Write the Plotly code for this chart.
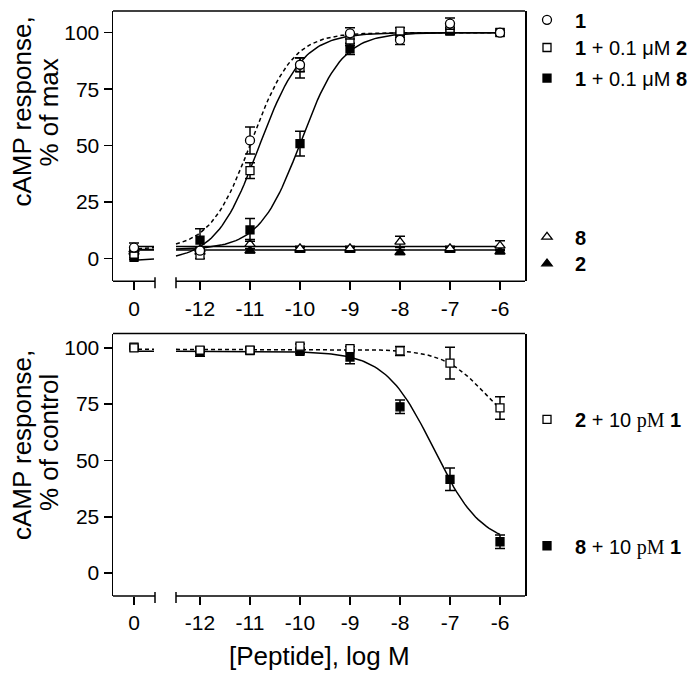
import numpy as np
import plotly.graph_objects as go

# ---------------- data ----------------
dose_labels = ["0", "-12", "-11", "-10", "-9", "-8", "-7", "-6"]
log_dose = [None, -12, -11, -10, -9, -8, -7, -6]   # None = no peptide (control)

# top panel: cAMP response, % of max
top_1 = [4.9, 3.5, 52.3, 85.8, 99.7, 96.8, 104.0, 100.0]
top_1_err = [2.0, 1.0, 6.0, 3.0, 2.5, 2.0, 2.5, 0.5]
top_1p2 = [2.0, 1.5, 38.9, 84.4, 96.8, 100.7, 101.9, 100.0]
top_1p2_err = [1.5, 1.5, 3.5, 4.5, 2.5, 1.5, 2.0, 0.5]
top_1p8 = [0.6, 8.2, 12.7, 50.9, 92.8, 99.0, 100.7, 100.1]
top_1p8_err = [1.0, 5.0, 5.0, 5.5, 2.5, 1.0, 1.5, 0.5]
top_8 = [4.0, 4.0, 6.4, 4.5, 4.5, 7.4, 4.5, 5.7]
top_8_err = [1.0, 1.0, 2.0, 1.0, 1.0, 2.5, 1.0, 2.2]
top_2 = [3.0, 3.0, 3.5, 3.8, 3.8, 2.8, 3.8, 3.1]
top_2_err = [1.0, 1.0, 1.0, 1.0, 1.0, 1.0, 1.0, 1.0]

# bottom panel: cAMP response, % of control
bot_2 = [100.0, 99.0, 99.0, 100.7, 99.6, 98.6, 93.2, 73.3]
bot_2_err = [0.5, 1.0, 1.0, 1.0, 1.0, 2.0, 7.0, 5.0]
bot_8 = [100.3, 98.3, 98.8, 98.4, 95.9, 73.8, 41.6, 13.9]
bot_8_err = [0.5, 2.0, 1.5, 1.0, 3.0, 3.0, 5.0, 3.0]

# fitted curve parameters: (bottom, top, logEC50, hill)
fit_1 = (4.0, 100.0, -10.97, 1.05)
fit_1p2 = (-1.0, 100.0, -10.82, 1.0)
fit_1p8 = (4.0, 100.0, -9.98, 1.05)
fit_8 = (5.4, 5.4, -10.0, 1.0)
fit_2 = (3.8, 3.8, -10.0, 1.0)
fit_b2 = (58.8, 99.3, -6.27, -1.0)
fit_b8 = (12.0, 98.5, -7.33, -0.9)

# ---------------- layout helpers ----------------
W, H = 700, 673
ZERO_POS = -13.32          # axis position of the "0" (control) tick
XR = [-13.74, -5.5]
LEFT_SEG = (-13.24, -12.92)
RIGHT_SEG = (-12.48, -6.0)
BREAK_L, BREAK_R = -12.9, -12.48


def xpos(d):
    return [ZERO_POS if v is None else v for v in d]


def logistic(x, p):
    b, t, c, h = p
    return b + (t - b) / (1.0 + 10.0 ** (h * (c - x)))


def py(px):  # pixel row -> paper y
    return 1 - px / H


def pxx(px):
    return px / W


FONT = "Liberation Sans, Arial, sans-serif"
fig = go.Figure()


def add_fit(p, dash, xa, ya):
    for seg in (LEFT_SEG, RIGHT_SEG):
        xs = np.linspace(seg[0], seg[1], 120)
        fig.add_trace(go.Scatter(
            x=xs, y=logistic(xs, p), mode="lines", xaxis=xa, yaxis=ya,
            line=dict(color="black", width=1.5, dash=dash),
            showlegend=False, hoverinfo="skip"))


def add_pts(vals, err, symbol, fill, name, legend, xa, ya, size=9):
    fig.add_trace(go.Scatter(
        x=xpos(log_dose), y=vals, mode="markers", xaxis=xa, yaxis=ya,
        name=name, legend=legend,
        marker=dict(symbol=symbol, size=size, color=fill,
                    line=dict(color="black", width=1.3)),
        error_y=dict(type="data", array=err, color="black", thickness=1.5, width=5),
    ))


# top panel fits
add_fit(fit_8, "solid", "x", "y")
add_fit(fit_2, "solid", "x", "y")
add_fit(fit_1p8, "solid", "x", "y")
add_fit(fit_1p2, "solid", "x", "y")
add_fit(fit_1, "4px,3px", "x", "y")
# bottom fits
add_fit(fit_b8, "solid", "x2", "y2")
add_fit(fit_b2, "4px,3px", "x2", "y2")

# points
add_pts(top_2, top_2_err, "triangle-up", "black", "<b>2</b>", "legend5", "x", "y", 9)
add_pts(top_8, top_8_err, "triangle-up", "white", "<b>8</b>", "legend4", "x", "y", 9)
add_pts(top_1p8, top_1p8_err, "square", "black", "<b>1</b> + 0.1 μM <b>8</b>", "legend3", "x", "y", 8)
add_pts(top_1p2, top_1p2_err, "square", "white", "<b>1</b> + 0.1 μM <b>2</b>", "legend2", "x", "y", 8)
add_pts(top_1, top_1_err, "circle", "white", "<b>1</b>", "legend", "x", "y", 9)
add_pts(bot_8, bot_8_err, "square", "black",
        "<b>8</b> + 10 <span style='font-family:Liberation Serif'>pM</span> <b>1</b>", "legend7", "x2", "y2", 8)
add_pts(bot_2, bot_2_err, "square", "white",
        "<b>2</b> + 10 <span style='font-family:Liberation Serif'>pM</span> <b>1</b>", "legend6", "x2", "y2", 8)

tickx = xpos(log_dose)
xcommon = dict(range=XR, tickvals=tickx, ticktext=dose_labels, showline=False,
               ticks="outside", ticklen=8, tickwidth=1.5, tickcolor="black",
               showgrid=False, zeroline=False, tickfont=dict(size=21, color="black"),
               domain=[113 / W, 525 / W])
ycommon = dict(tickvals=[0, 25, 50, 75, 100], showline=True, mirror=True, linecolor="black",
               linewidth=1.5, ticks="outside", ticklen=8, tickwidth=1.5, tickcolor="black",
               showgrid=False, zeroline=False, tickfont=dict(size=21, color="black"))

legends = {}
leg_rows = [("legend", 11), ("legend2", 39), ("legend3", 70), ("legend4", 231),
            ("legend5", 258), ("legend6", 416), ("legend7", 544)]
for key, row in leg_rows:
    legends[key] = dict(x=519 / W, y=py(row), xanchor="left", yanchor="middle",
                        bgcolor="rgba(0,0,0,0)", itemwidth=46,
                        font=dict(size=20, color="black", family=FONT))

fig.update_layout(
    width=W, height=H, margin=dict(l=0, r=0, t=0, b=0),
    paper_bgcolor="white", plot_bgcolor="white",
    font=dict(family=FONT, color="black"),
    xaxis=dict(**xcommon, anchor="y"),
    yaxis=dict(**ycommon, range=[-10.05, 109.6], domain=[py(276), py(2)], anchor="x"),
    xaxis2=dict(**xcommon, anchor="y2"),
    yaxis2=dict(**ycommon, range=[-10.2, 106.3], domain=[py(595), py(329)], anchor="x2"),
    **legends,
)

# box top borders and broken bottom axes
shapes = []
for xa, ya in (("x", "y"), ("x2", "y2")):
    yd = ya + " domain"
    shapes.append(dict(type="line", xref=xa + " domain", yref=yd, x0=0, x1=1, y0=1, y1=1,
                       line=dict(color="black", width=1.5)))
    shapes.append(dict(type="line", xref=xa, yref=yd, x0=XR[0], x1=BREAK_L, y0=0, y1=0,
                       line=dict(color="black", width=1.5)))
    shapes.append(dict(type="line", xref=xa, yref=yd, x0=BREAK_R, x1=XR[1], y0=0, y1=0,
                       line=dict(color="black", width=1.5)))
    for bx in (BREAK_L, BREAK_R):
        shapes.append(dict(type="line", xref=xa, yref=yd, ysizemode="pixel", yanchor=0,
                           x0=bx, x1=bx, y0=-7, y1=4, line=dict(color="black", width=1.5)))
fig.update_layout(shapes=shapes)

TS = 26
ann = [
    dict(text="cAMP response,", x=pxx(22), y=py(104)),
    dict(text="% of max", x=pxx(49), y=py(105)),
    dict(text="cAMP response,", x=pxx(22), y=py(442)),
    dict(text="% of control", x=pxx(49), y=py(440)),
]
for a in ann:
    a.update(textangle=-90)
ann.append(dict(text="[Peptide], log M", x=pxx(319), y=py(656)))
for a in ann:
    a.update(xref="paper", yref="paper", showarrow=False, xanchor="center", yanchor="middle",
             font=dict(size=TS, color="black", family=FONT))
fig.update_layout(annotations=ann)

post = (
    "document.body.style.margin='0';document.body.style.padding='0';"
    "document.documentElement.style.overflow='hidden';"
    "var gd=document.querySelector('.plotly-graph-div');"
    "gd.style.position='absolute';gd.style.top='0px';gd.style.left='0px';"
)
fig.write_html("out.html", config={"displayModeBar": False, "staticPlot": True},
               post_script=post)
